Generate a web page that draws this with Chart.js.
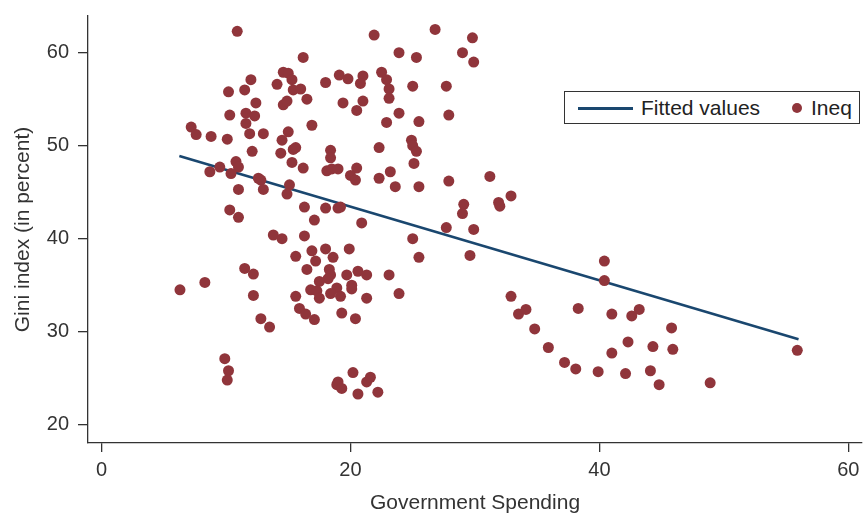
<!DOCTYPE html>
<html lang="en">
<head>
  <meta charset="UTF-8" />
  <title>Gini index vs Government Spending</title>
  <script src="https://cdn.jsdelivr.net/npm/chart.js"></script>
  <style>
    body {
      margin: 0;
      background: #fff;
      font-family: 'Liberation Sans', Arial, sans-serif;
    }

    .wrap {
      position: relative;
      width: 863px;
      height: 518px;
    }

    .legend {
      position: absolute;
      left: 564px;
      top: 91px;
      width: 294px;
      height: 31px;
      border: 1px solid #333;
      background: #fff;
      color: #222;
      font-size: 21px;
    }

    .legend .line {
      position: absolute;
      left: 13px;
      top: 14.5px;
      width: 55px;
      height: 3px;
      background: #1a476f;
    }

    .legend .dot {
      position: absolute;
      left: 227px;
      top: 10.5px;
      width: 10px;
      height: 10px;
      border-radius: 50%;
      background: #90353b;
    }

    .legend .txt {
      position: absolute;
      top: 3px;
      line-height: 25px;
    }
  </style>
</head>
<body>
  <div class="wrap">
    <canvas id="giniChart" width="863" height="518"></canvas>
    <div class="legend">
      <div class="line"></div>
      <span class="txt" style="left:76px">Fitted values</span>
      <div class="dot"></div>
      <span class="txt" style="left:246px">Ineq</span>
    </div>
  </div>

  <script>
    // Government spending (x) and Gini index (y) for each country
    const spending = [
      10.9, 16.2, 12.0, 10.2, 11.5, 14.6, 15.0, 15.3, 14.1, 15.4, 16.0, 12.4, 14.6, 14.9, 16.5, 18.0, 19.1, 19.8, 19.4, 20.5,
      10.3, 11.6, 12.3, 11.6, 7.2, 7.6, 8.8, 10.1, 11.9, 13.0, 15.0, 14.5, 16.9, 12.1, 14.4, 15.4, 15.6, 18.4, 18.4, 15.3,
      16.2, 10.8, 11.0, 9.5, 8.7, 10.4, 12.6, 12.8, 11.0, 13.0, 15.1, 14.9, 18.1, 18.5, 19.0, 20.5, 20.0, 20.4, 16.3, 18.0,
      19.0, 19.2, 17.1, 10.3, 11.0, 20.9, 13.8, 14.5, 16.3, 16.9, 18.0, 15.6, 17.2, 18.6, 19.9, 16.5, 18.3, 18.4, 18.2, 19.7,
      20.6, 11.5, 12.2, 8.3, 6.3, 12.2, 15.6, 17.5, 16.8, 17.3, 18.9, 18.4, 20.1, 20.1, 19.2, 17.5, 12.8, 13.5, 15.9, 16.4,
      17.1, 19.3, 20.4, 9.9, 10.2, 10.1, 20.2, 19.0, 18.9, 19.3, 20.6, 21.9, 26.8, 29.8, 23.9, 25.3, 29.0, 29.9, 21.0, 20.8,
      22.5, 22.9, 23.1, 23.1, 25.0, 27.7, 21.0, 23.9, 22.9, 25.5, 27.9, 24.9, 25.0, 25.3, 25.1, 22.3, 23.2, 22.3, 23.6, 25.5,
      27.9, 31.2, 32.9, 31.9, 32.0, 29.1, 29.0, 25.0, 27.7, 29.9, 25.5, 29.6, 21.3, 23.1, 21.3, 23.9, 32.9, 33.5, 34.1, 34.8,
      35.9, 21.3, 21.6, 22.2, 40.4, 40.4, 37.2, 38.1, 38.3, 39.9, 41.0, 41.0, 42.1, 42.3, 43.2, 42.6, 44.1, 44.3, 44.8, 45.8,
      45.9, 48.9, 55.9
    ];
    const gini = [
      62.3, 59.5, 57.1, 55.8, 56.0, 57.9, 57.8, 57.1, 56.6, 56.0, 56.1, 54.6, 54.4, 54.8, 55.0, 56.8, 57.6, 57.2, 54.6, 53.8,
      53.3, 53.5, 53.2, 52.4, 52.0, 51.2, 51.0, 50.7, 51.3, 51.3, 51.5, 50.6, 52.2, 49.4, 49.2, 49.6, 49.8, 49.5, 48.7, 48.2,
      47.6, 48.3, 47.7, 47.7, 47.2, 47.0, 46.5, 46.3, 45.3, 45.3, 45.8, 44.8, 47.3, 47.5, 47.5, 47.6, 46.8, 46.3, 43.4, 43.3,
      43.3, 43.4, 42.0, 43.1, 42.3, 41.7, 40.4, 40.0, 40.3, 38.7, 38.9, 38.1, 37.6, 38.0, 38.9, 36.7, 36.7, 36.1, 35.7, 36.1,
      36.5, 36.8, 36.2, 35.3, 34.5, 33.9, 33.8, 35.4, 34.5, 34.4, 34.7, 34.1, 35.0, 34.6, 33.8, 33.6, 31.4, 30.5, 32.5, 31.9,
      31.3, 32.0, 31.4, 27.1, 25.8, 24.8, 25.6, 24.6, 24.3, 23.9, 23.3, 61.9, 62.5, 61.6, 60.0, 59.5, 60.0, 59.0, 57.5, 56.7,
      57.9, 57.1, 56.1, 55.1, 56.4, 56.4, 54.8, 53.5, 52.5, 52.6, 53.3, 50.6, 50.0, 49.4, 48.1, 49.8, 47.2, 46.5, 45.6, 45.6,
      46.2, 46.7, 44.6, 43.9, 43.5, 43.7, 42.7, 40.0, 41.2, 41.0, 38.0, 38.2, 36.1, 36.1, 33.6, 34.1, 33.8, 31.9, 32.4, 30.3,
      28.3, 24.6, 25.1, 23.5, 37.6, 35.5, 26.7, 26.0, 32.5, 25.7, 31.9, 27.7, 25.5, 28.9, 32.4, 31.7, 25.8, 28.4, 24.3, 30.4,
      28.1, 24.5, 28.0
    ];

    // linear fit, drawn between its two end points
    const fitX = [6.25, 56.0];
    const fitY = [48.9, 29.2];

    const xTicks = [0, 20, 40, 60];
    const yTicks = [20, 30, 40, 50, 60];

    const navy = '#1a476f';
    const maroon = '#90353b';
    const axisColor = '#333';

    Chart.defaults.font.family = "'Liberation Sans', Arial, sans-serif";

    const ctx = document.getElementById('giniChart').getContext('2d');

    new Chart(ctx, {
      type: 'scatter',
      data: {
        datasets: [
          {
            label: 'Fitted values',
            data: fitX.map((x, i) => ({ x: x, y: fitY[i] })),
            showLine: true,
            borderColor: navy,
            borderWidth: 2.6,
            pointRadius: 0,
            fill: false,
            order: 2
          },
          {
            label: 'Ineq',
            data: spending.map((x, i) => ({ x: x, y: gini[i] })),
            backgroundColor: maroon,
            borderColor: maroon,
            borderWidth: 0,
            pointRadius: 5.5,
            order: 1
          }
        ]
      },
      options: {
        responsive: false,
        animation: false,
        layout: {
          autoPadding: false,
          padding: { top: 16, right: 1, left: 0, bottom: 0 }
        },
        plugins: {
          legend: { display: false },
          tooltip: { enabled: false }
        },
        scales: {
          x: {
            type: 'linear',
            min: -1.09,
            max: 61.1,
            afterBuildTicks: scale => { scale.ticks = xTicks.map(v => ({ value: v })); },
            afterFit: scale => {
              scale.height = 75;
              scale.paddingLeft = 0;
              scale.paddingRight = 0;
            },
            grid: { drawOnChartArea: false, tickLength: 9, color: axisColor, tickColor: axisColor, lineWidth: 1.3 },
            border: { color: axisColor, width: 1.3 },
            ticks: { padding: 6, color: axisColor, font: { size: 20 } },
            title: {
              display: true,
              text: 'Government Spending',
              color: axisColor,
              font: { size: 21 },
              padding: { top: 0, bottom: 2 }
            }
          },
          y: {
            type: 'linear',
            min: 18.03,
            max: 63.95,
            afterBuildTicks: scale => { scale.ticks = yTicks.map(v => ({ value: v })); },
            afterFit: scale => {
              scale.width = 88;
              scale.paddingTop = 0;
              scale.paddingBottom = 0;
            },
            grid: { drawOnChartArea: false, tickLength: 10, color: axisColor, tickColor: axisColor, lineWidth: 1.3 },
            border: { color: axisColor, width: 1.3 },
            ticks: { padding: 9, color: axisColor, font: { size: 20 } },
            title: {
              display: true,
              text: 'Gini index (in percent)',
              color: axisColor,
              font: { size: 21 },
              padding: { top: 11, bottom: 0 }
            }
          }
        }
      }
    });
  </script>
</body>
</html>
